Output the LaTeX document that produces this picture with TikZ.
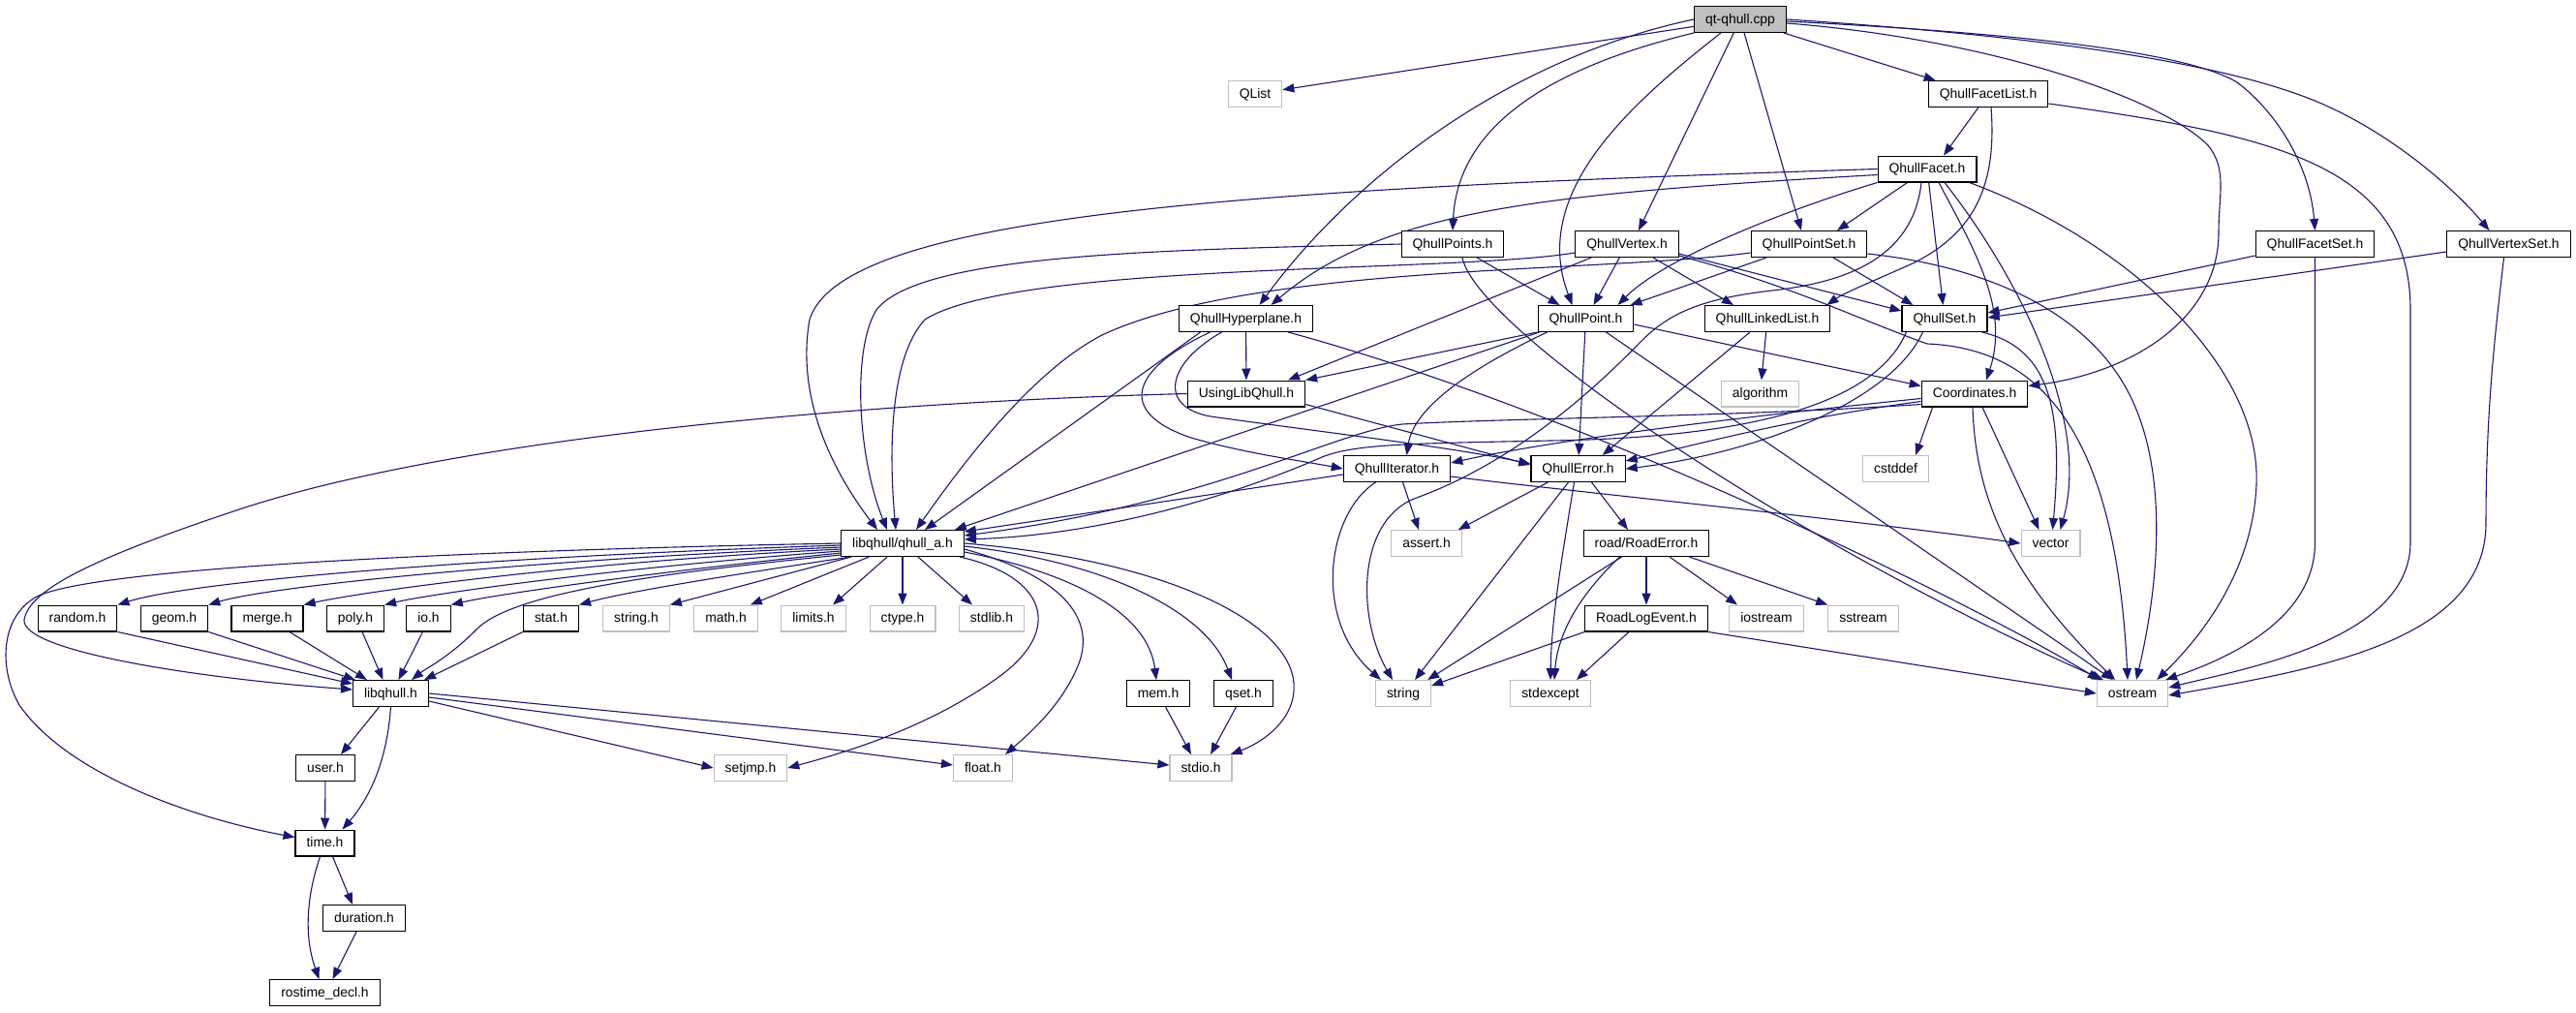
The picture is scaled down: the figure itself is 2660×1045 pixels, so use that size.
\documentclass[tikz,border=0pt]{standalone}
\usepackage{fontspec}
\setmainfont{Liberation Sans}
\usetikzlibrary{arrows.meta,calc}
\definecolor{edgeblue}{HTML}{191970}
\definecolor{extgray}{HTML}{BFBFBF}
\pgfdeclarelayer{edgelayer}
\pgfsetlayers{edgelayer,main}
\begin{document}
\begin{tikzpicture}[x=1pt,y=-1pt,
  every node/.style={font=\fontsize{13.9}{16}\selectfont, text height=11.5pt, text depth=3pt,
    inner xsep=11.5pt, inner ysep=0pt, minimum height=26.8pt, line width=1.2pt},
  docbox/.style={draw=black, fill=white},
  extbox/.style={draw=extgray, fill=white},
  rootbox/.style={draw=black, fill=extgray},
  incl/.style={draw=edgeblue, line width=1.1pt, -{Triangle[length=12pt,width=9pt]}}]
\useasboundingbox (0,0) rectangle (2660,1045);

% ---------- nodes ----------
\node[rootbox] (Q) at (1797,20) {qt-qhull.cpp};
\node[extbox] (QList) at (1296,97) {QList};
\node[docbox] (FL) at (2053,97) {QhullFacetList.h};
\node[docbox] (F) at (1990,174.5) {QhullFacet.h};
\node[docbox] (Ps) at (1500,252) {QhullPoints.h};
\node[docbox] (V) at (1680,252) {QhullVertex.h};
\node[docbox] (PS) at (1868,252) {QhullPointSet.h};
\node[docbox] (FS) at (2390.5,252) {QhullFacetSet.h};
\node[docbox] (VS) at (2590.5,252) {QhullVertexSet.h};
\node[docbox] (H) at (1286.5,329) {QhullHyperplane.h};
\node[docbox] (P) at (1637.5,329) {QhullPoint.h};
\node[docbox] (LL) at (1825,329) {QhullLinkedList.h};
\node[docbox] (S) at (2008,329) {QhullSet.h};
\node[docbox] (U) at (1287,406.5) {UsingLibQhull.h};
\node[extbox] (alg) at (1817.5,406.5) {algorithm};
\node[docbox] (C) at (2039,406.5) {Coordinates.h};
\node[docbox] (It) at (1442.5,484) {QhullIterator.h};
\node[docbox] (E) at (1629.5,484) {QhullError.h};
\node[extbox] (cstd) at (1957.5,484) {cstddef};
\node[docbox] (A) at (932,561) {libqhull/qhull\_a.h};
\node[extbox] (asrt) at (1473,561) {assert.h};
\node[docbox] (RE) at (1700,561) {road/RoadError.h};
\node[extbox] (vec) at (2117.5,561) {vector};
\node[docbox] (random) at (80,638.5) {random.h};
\node[docbox] (geom) at (180,638.5) {geom.h};
\node[docbox] (merge) at (276,638.5) {merge.h};
\node[docbox] (poly) at (367,638.5) {poly.h};
\node[docbox] (io) at (442.5,638.5) {io.h};
\node[docbox] (stat) at (569,638.5) {stat.h};
\node[extbox] (stringh) at (657,638.5) {string.h};
\node[extbox] (mathh) at (749.5,638.5) {math.h};
\node[extbox] (limits) at (840,638.5) {limits.h};
\node[extbox] (ctype) at (932,638.5) {ctype.h};
\node[extbox] (stdlib) at (1024,638.5) {stdlib.h};
\node[docbox] (RLE) at (1700,638.5) {RoadLogEvent.h};
\node[extbox] (iostream) at (1824,638.5) {iostream};
\node[extbox] (sstream) at (1924,638.5) {sstream};
\node[docbox] (libqhull) at (403.5,716) {libqhull.h};
\node[docbox] (mem) at (1196,716) {mem.h};
\node[docbox] (qset) at (1284,716) {qset.h};
\node[extbox] (str) at (1449,716) {string};
\node[extbox] (stdexcept) at (1601,716) {stdexcept};
\node[extbox] (ostream) at (2202,716) {ostream};
\node[docbox] (user) at (336,793) {user.h};
\node[extbox] (setjmp) at (775,793) {setjmp.h};
\node[extbox] (float) at (1015,793) {float.h};
\node[extbox] (stdio) at (1240,793) {stdio.h};
\node[docbox] (time) at (335.5,870.5) {time.h};
\node[docbox] (duration) at (376,948) {duration.h};
\node[docbox] (rostime) at (335.5,1025) {rostime\_decl.h};

\begin{pgfonlayer}{edgelayer}
% ---------- qt-qhull.cpp ----------
\draw[incl] (Q) -- (QList);
\draw[incl] (Q.west) .. controls (1560,60) and (1400,180) .. ($(H.north)+(14,0)$);
\draw[incl] (Q.south west) .. controls (1600,70) and (1505,130) .. (Ps.north);
\draw[incl] ($(Q.south)+(-20,0)$) .. controls (1680,110) and (1580,200) .. ($(P.north)+(-14,0)$);
\draw[incl] (Q) -- ($(V.north)+(12,0)$);
\draw[incl] (Q) -- ($(PS.north)+(-8,0)$);
\draw[incl] (Q) -- ($(FL.north west)+(8,0)$);
\draw[incl] ($(Q.east)+(0,4)$) .. controls (2050,40) and (2230,100) .. (2280,150) .. controls (2300,175) and (2291,200) .. (2291,240) .. controls (2291,330) and (2200,385) .. ($(C.east)+(0,-8)$);
\draw[incl] ($(Q.east)+(0,2)$) .. controls (2100,35) and (2260,55) .. (2310,85) .. controls (2350,115) and (2385,170) .. (FS.north);
\draw[incl] (Q.east) .. controls (2150,40) and (2300,70) .. (2380,100) .. controls (2460,130) and (2530,190) .. ($(VS.north)+(-20,0)$);

% ---------- QhullFacetList.h ----------
\draw[incl] (FL) -- ($(F.north)+(17,0)$);
\draw[incl] ($(FL.south)+(3,0)$) .. controls (2062,190) and (2040,240) .. (1975,272) .. controls (1935,290) and (1905,302) .. ($(LL.north east)+(-4,0)$);
\draw[incl] ($(FL.east)+(0,10)$) .. controls (2350,140) and (2489,170) .. (2489,320) -- (2489,560) .. controls (2489,660) and (2320,690) .. ($(ostream.east)+(0,-6)$);

% ---------- QhullFacet.h ----------
\draw[incl] ($(F.west)+(0,6)$) .. controls (1600,200) and (1430,215) .. ($(H.north)+(26,0)$);
\draw[incl] (F.west) .. controls (1300,195) and (870,220) .. (836,330) .. controls (820,420) and (870,500) .. ($(A.north)+(-26,0)$);
\draw[incl] (F.south west) .. controls (1850,215) and (1720,265) .. ($(P.north)+(33,0)$);
\draw[incl] (F) -- ($(PS.north)+(29,0)$);
\draw[incl] (F) -- (S);
\draw[incl] ($(F.south)+(-6,0)$) .. controls (1975,270) and (1900,292) .. (1830,300) .. controls (1760,308) and (1725,322) .. (1695,352) .. controls (1610,440) and (1530,490) .. (1460,515) .. controls (1400,540) and (1402,640) .. ($(str.north)+(-11,0)$);
\draw[incl] ($(F.south)+(12,0)$) .. controls (2040,260) and (2075,320) .. ($(C.north)+(12,0)$);
\draw[incl] ($(F.south)+(18,0)$) .. controls (2080,280) and (2160,430) .. ($(vec.north)+(10,0)$);
\draw[incl] ($(F.south east)+(-8,0)$) .. controls (2200,250) and (2335,380) .. (2330,500) .. controls (2326,600) and (2260,670) .. ($(ostream.north east)+(-12,0)$);

% ---------- QhullPoints.h ----------
\draw[incl] (Ps.west) .. controls (1200,258) and (950,262) .. (905,320) .. controls (880,360) and (885,470) .. ($(A.north)+(-16,0)$);
\draw[incl] ($(Ps.south)+(25,0)$) -- ($(P.north)+(-27,0)$);
\draw[incl] ($(Ps.south)+(10,0)$) .. controls (1525,340) and (1850,560) .. ($(ostream.north west)+(7,0)$);

% ---------- QhullVertex.h ----------
\draw[incl] ($(V.west)+(0,9)$) .. controls (1500,282) and (1050,270) .. (955,330) .. controls (918,370) and (918,470) .. ($(A.north)+(-7,0)$);
\draw[incl] ($(V.south west)+(17,0)$) -- ($(U.north)+(43,0)$);
\draw[incl] (V) -- ($(P.north)+(8,0)$);
\draw[incl] ($(V.south)+(27,0)$) -- ($(LL.north)+(-35,0)$);
\draw[incl] ($(V.east)+(0,10)$) -- ($(S.west)+(0,-8)$);
\draw[incl] ($(V.east)+(0,12)$) .. controls (1850,295) and (1920,330) .. (1990,355) .. controls (2110,360) and (2185,450) .. ($(ostream.north)+(-5,0)$);

% ---------- QhullPointSet.h ----------
\draw[incl] ($(PS.west)+(0,9)$) .. controls (1650,282) and (1300,272) .. (1140,345) .. controls (1070,380) and (1000,470) .. ($(A.north)+(14,0)$);
\draw[incl] ($(PS.south)+(-44,0)$) -- ($(P.north east)+(-4,0)$);
\draw[incl] ($(PS.south)+(25,0)$) -- ($(S.north west)+(12,0)$);
\draw[incl] ($(PS.east)+(0,10)$) .. controls (2050,275) and (2150,320) .. (2195,400) .. controls (2240,480) and (2230,600) .. ($(ostream.north)+(4,0)$);

% ---------- QhullFacetSet.h / QhullVertexSet.h ----------
\draw[incl] ($(FS.west)+(0,12)$) -- ($(S.east)+(0,-6)$);
\draw[incl] (FS.south) -- (2390.5,560) .. controls (2390.5,640) and (2300,680) .. ($(ostream.north east)+(-3,0)$);
\draw[incl] ($(VS.west)+(0,8)$) -- ($(S.east)+(0,-1)$);
\draw[incl] ($(VS.south)+(-5,0)$) .. controls (2577,340) and (2567,420) .. (2567,540) .. controls (2567,660) and (2400,690) .. ($(ostream.east)+(0,2)$);

% ---------- QhullHyperplane.h ----------
\draw[incl] (H) -- (U);
\draw[incl] ($(H.south)+(-47,0)$) -- ($(A.north)+(23,0)$);
\draw[incl] ($(H.south)+(-37,0)$) .. controls (1170,380) and (1150,425) .. (1230,452) .. controls (1285,468) and (1345,476) .. (It.west);
\draw[incl] ($(H.south)+(-25,0)$) .. controls (1205,375) and (1195,420) .. (1250,430) .. controls (1380,448) and (1500,462) .. ($(E.west)+(0,-5)$);
\draw[incl] ($(H.south east)+(-26,0)$) .. controls (1650,430) and (2050,630) .. ($(ostream.north west)+(3,0)$);

% ---------- QhullPoint.h ----------
\draw[incl] (P.south west) -- (U.north east);
\draw[incl] ($(P.south west)+(2,0)$) -- ($(A.north east)+(-10,0)$);
\draw[incl] ($(P.south west)+(10,0)$) .. controls (1520,380) and (1460,420) .. ($(It.north)+(10,0)$);
\draw[incl] (P) -- (E);
\draw[incl] ($(P.east)+(0,6)$) -- ($(C.west)+(0,-8)$);
\draw[incl] ($(P.south east)+(-29,0)$) -- ($(ostream.north west)+(17,0)$);

% ---------- QhullLinkedList.h ----------
\draw[incl] ($(LL.south)+(-18,0)$) -- ($(E.north east)+(-24,0)$);
\draw[incl] (LL) -- (alg);

% ---------- QhullSet.h ----------
\draw[incl] ($(S.south west)+(22,0)$) .. controls (1950,420) and (1800,470) .. (E.east);
\draw[incl] ($(S.south west)+(5,0)$) .. controls (1935,420) and (1800,452) .. (1600,455) .. controls (1460,458) and (1400,458) .. (1365,472) .. controls (1290,505) and (1150,552) .. ($(A.east)+(0,-4)$);
\draw[incl] ($(S.south east)+(-6,0)$) .. controls (2120,360) and (2130,430) .. ($(vec.north)+(2,0)$);

% ---------- UsingLibQhull.h ----------
\draw[incl] ($(U.south east)+(0,-3)$) -- ($(E.west)+(0,-4)$);
\draw[incl] (U.west) .. controls (900,415) and (480,450) .. (250,525) .. controls (90,578) and (30,610) .. (25,640) .. controls (22,672) and (200,700) .. ($(libqhull.west)+(0,-4)$);

% ---------- Coordinates.h ----------
\draw[incl] ($(C.west)+(0,5)$) .. controls (1800,430) and (1600,455) .. ($(It.east)+(0,-6)$);
\draw[incl] ($(C.west)+(0,8)$) .. controls (1850,432) and (1740,462) .. ($(E.east)+(0,-8)$);
\draw[incl] ($(C.west)+(0,11)$) .. controls (1800,430) and (1550,432) .. (1448,438) .. controls (1380,445) and (1250,520) .. ($(A.east)+(0,-8)$);
\draw[incl] ($(C.south west)+(12,0)$) -- ($(cstd.north east)+(-14,0)$);
\draw[incl] ($(C.south)+(8,0)$) -- ($(vec.north)+(-12,0)$);
\draw[incl] ($(C.south)+(-2,0)$) .. controls (2040,520) and (2080,600) .. ($(ostream.north)+(-18,0)$);

% ---------- QhullIterator.h ----------
\draw[incl] ($(It.west)+(0,6)$) -- ($(A.east)+(0,-12)$);
\draw[incl] ($(It.south)+(6,0)$) -- ($(asrt.north)+(-8,0)$);
\draw[incl] ($(It.south)+(-22,0)$) .. controls (1370,530) and (1355,640) .. ($(str.north west)+(6,0)$);
\draw[incl] ($(It.east)+(0,8)$) .. controls (1600,505) and (1900,535) .. (vec.west);

% ---------- QhullError.h ----------
\draw[incl] ($(E.south)+(14,0)$) -- ($(RE.north)+(-19,0)$);
\draw[incl] ($(E.south west)+(18,0)$) -- ($(asrt.north east)+(-4,0)$);
\draw[incl] ($(E.south)+(-10,0)$) -- ($(str.north)+(12,0)$);
\draw[incl] ($(E.south)+(-4,0)$) .. controls (1612,580) and (1602,640) .. (stdexcept.north);

% ---------- road/RoadError.h ----------
\draw[incl] (RE) -- (RLE);
\draw[incl] ($(RE.south)+(24,0)$) -- ($(iostream.north)+(-30,0)$);
\draw[incl] ($(RE.south east)+(-21,0)$) -- (sstream.north west);
\draw[incl] ($(RE.south west)+(40,0)$) -- ($(str.north east)+(-4,0)$);
\draw[incl] ($(RE.south west)+(38,0)$) .. controls (1625,620) and (1608,660) .. ($(stdexcept.north)+(4,0)$);

% ---------- RoadLogEvent.h ----------
\draw[incl] (RLE.south west) -- ($(str.east)+(0,-8)$);
\draw[incl] ($(RLE.south)+(-18,0)$) -- ($(stdexcept.north east)+(-15,0)$);
\draw[incl] (RLE.south east) -- (ostream.west);

% ---------- libqhull/qhull_a.h ----------
\draw[incl] ($(A.west)+(0,2)$) .. controls (500,575) and (200,600) .. (random.north east);
\draw[incl] ($(A.west)+(0,4)$) .. controls (550,578) and (280,605) .. (geom.north east);
\draw[incl] ($(A.west)+(0,6)$) .. controls (600,580) and (380,610) .. (merge.north east);
\draw[incl] ($(A.west)+(0,8)$) .. controls (650,585) and (450,612) .. (poly.north east);
\draw[incl] ($(A.west)+(0,10)$) .. controls (700,588) and (520,612) .. (io.north east);
\draw[incl] ($(A.south west)+(10,0)$) .. controls (780,590) and (650,610) .. (stat.north east);
\draw[incl] ($(A.west)+(0,12)$) .. controls (700,590) and (530,610) .. (492,650) .. controls (462,680) and (440,690) .. ($(libqhull.north east)+(-18,0)$);
\draw[incl] (A) -- (stringh.north east);
\draw[incl] (A) -- ($(mathh.north east)+(-8,0)$);
\draw[incl] (A) -- ($(limits.north)+(20,0)$);
\draw[incl] (A) -- (ctype);
\draw[incl] (A) -- ($(stdlib.north)+(-20,0)$);
\draw[incl] ($(A.south east)+(-5,0)$) .. controls (1080,595) and (1100,650) .. (1030,700) .. controls (960,750) and (880,775) .. (setjmp.east);
\draw[incl] ($(A.east)+(0,6)$) .. controls (1115,600) and (1130,650) .. (1112,690) .. controls (1095,730) and (1060,760) .. ($(float.north east)+(-8,0)$);
\draw[incl] ($(A.east)+(0,9)$) .. controls (1100,590) and (1185,630) .. ($(mem.north)+(-2,0)$);
\draw[incl] ($(A.east)+(0,3)$) .. controls (1140,580) and (1245,630) .. ($(qset.north)+(-12,0)$);
\draw[incl] (A.east) .. controls (1200,578) and (1330,640) .. (1336,705) .. controls (1339,745) and (1300,768) .. ($(stdio.north east)+(-2,0)$);
\draw[incl] (A.west) .. controls (500,568) and (110,585) .. (40,615) .. controls (0,635) and (-2,690) .. (20,728) .. controls (70,800) and (200,845) .. ($(time.west)+(0,-6)$);

% ---------- libqhull sub-headers ----------
\draw[incl] (random.south east) -- ($(libqhull.west)+(0,-10)$);
\draw[incl] (geom.south east) -- ($(libqhull.north west)+(3,0)$);
\draw[incl] ($(merge.south)+(23,0)$) -- ($(libqhull.north west)+(15,0)$);
\draw[incl] ($(poly.south)+(7,0)$) -- ($(libqhull.north)+(-8,0)$);
\draw[incl] ($(io.south)+(-6,0)$) -- ($(libqhull.north)+(8,0)$);
\draw[incl] (stat.south west) -- ($(libqhull.north east)+(-5,0)$);
\draw[incl] (mem) -- ($(stdio.north)+(-10,0)$);
\draw[incl] (qset) -- ($(stdio.north)+(10,0)$);

% ---------- libqhull.h ----------
\draw[incl] ($(libqhull.south)+(-12,0)$) -- ($(user.north)+(16,0)$);
\draw[incl] (libqhull.south) .. controls (400,780) and (385,820) .. ($(time.north)+(18,0)$);
\draw[incl] ($(libqhull.east)+(0,8)$) -- (setjmp.west);
\draw[incl] ($(libqhull.east)+(0,4)$) -- ($(float.west)+(0,-3)$);
\draw[incl] (libqhull.east) -- ($(stdio.west)+(0,-3)$);

% ---------- time ----------
\draw[incl] (user) -- (time);
\draw[incl] ($(time.south)+(8,0)$) -- ($(duration.north)+(-12,0)$);
\draw[incl] ($(time.south)+(-5,0)$) .. controls (315,930) and (315,970) .. ($(rostime.north)+(-6,0)$);
\draw[incl] ($(duration.south)+(-8,0)$) -- ($(rostime.north)+(8,0)$);
\end{pgfonlayer}
\end{tikzpicture}
\end{document}
